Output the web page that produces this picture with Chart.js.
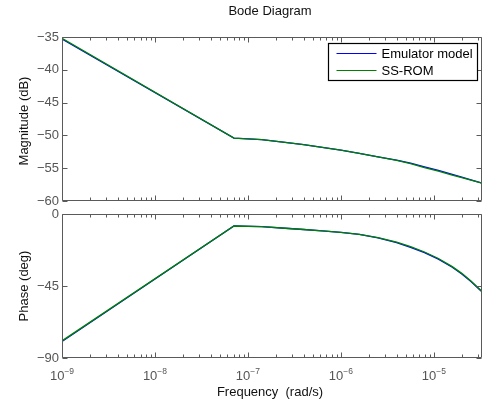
<!DOCTYPE html>
<html lang="en">
<head>
  <meta charset="UTF-8" />
  <title>Bode Diagram</title>
  <script src="https://cdn.jsdelivr.net/npm/chart.js"></script>
  <style>
    * { margin: 0; padding: 0; }
    body { background: #fff; width: 485px; height: 405px; overflow: hidden; position: relative; }
    canvas { position: absolute; left: 0; }
    #magChart { top: 0; }
    #phaseChart { top: 205px; }
  </style>
</head>
<body>
  <canvas id="magChart" width="485" height="205"></canvas>
  <canvas id="phaseChart" width="485" height="200"></canvas>

  <script>
    // frequency samples (rad/s) shared by both plots
    const freq = [1e-9, 7.08e-8, 1.41e-7, 2.51e-7, 3.98e-7, 6.31e-7, 1e-6, 1.58e-6, 2.51e-6,
                  3.98e-6, 5.62e-6, 7.94e-6, 1.12e-5, 1.58e-5, 2.0e-5, 2.51e-5, 3.16e-5, 3.3e-5];

    // magnitude (dB)
    const magEmulator = [-35.3, -50.4, -50.64, -51.06, -51.42, -51.81, -52.25, -52.74, -53.26,
                         -53.78, -54.22, -54.8, -55.33, -55.95, -56.36, -56.77, -57.18, -57.26];
    const magRom      = [-35.2, -50.4, -50.64, -51.06, -51.42, -51.81, -52.25, -52.74, -53.26,
                         -53.82, -54.29, -54.9, -55.44, -56.05, -56.43, -56.81, -57.2, -57.27];

    // phase (deg)
    const phaseEmulator = [-79.7, -7.5, -7.9, -8.9, -9.7, -10.5, -11.5, -12.75, -14.95,
                           -17.9, -20.8, -24.1, -28.2, -33.3, -37.5, -42.2, -47.6, -48.6];
    const phaseRom      = [-79.3, -7.5, -7.9, -8.9, -9.7, -10.5, -11.5, -12.7, -14.7,
                           -17.6, -20.45, -23.75, -27.8, -32.9, -37.1, -41.9, -47.4, -48.5];

    const magTicks = [-60, -55, -50, -45, -40, -35];
    const phaseTicks = [-90, -45, 0];
    const decades = [-9, -8, -7, -6, -5];
    const seriesNames = ['Emulator model', 'SS-ROM'];

    const colors = ['#0000ff', '#008000'];
    const FONT = '"Liberation Sans", Arial, sans-serif';
    const AXIS = '#5a5a5a';
    const TICKTXT = '#555';

    const minus = v => String(v).replace('-', '\u2212');
    const pts = ys => freq.map((f, i) => ({ x: f, y: ys[i] }));

    // matlab-ish box axes: inward ticks on all four sides, labels, titles, legend
    const frame = {
      id: 'frame',
      afterDatasetsDraw(chart, args, o) {
        const ctx = chart.ctx;
        const a = chart.chartArea;
        const xs = chart.scales.x, ys = chart.scales.y;
        const L = a.left + 0.5, R = a.right - 0.5, T = a.top + 0.5, B = a.bottom - 0.5;
        ctx.save();
        ctx.strokeStyle = AXIS;
        ctx.lineWidth = 1;
        ctx.beginPath();
        ctx.rect(L, T, R - L, B - T);

        decades.forEach(d => {
          for (let k = 1; k <= 9; k++) {
            const v = k * Math.pow(10, d);
            if (v > xs.max * 1.0001) continue;
            const x = Math.round(xs.getPixelForValue(v)) + 0.5;
            const len = k === 1 ? 5 : 3;
            ctx.moveTo(x, B); ctx.lineTo(x, B - len);
            ctx.moveTo(x, T); ctx.lineTo(x, T + len);
          }
        });
        o.yTicks.forEach(t => {
          const y = Math.round(ys.getPixelForValue(t)) + 0.5;
          ctx.moveTo(L, y); ctx.lineTo(L + 5, y);
          ctx.moveTo(R, y); ctx.lineTo(R - 5, y);
        });
        ctx.stroke();

        // y tick labels
        ctx.fillStyle = TICKTXT;
        ctx.font = '13px ' + FONT;
        ctx.textAlign = 'right';
        ctx.textBaseline = 'middle';
        o.yTicks.forEach(t => ctx.fillText(minus(t), a.left - 3, ys.getPixelForValue(t)));

        // x tick labels as 10^n
        if (o.xLabels) {
          decades.forEach(d => {
            const x = xs.getPixelForValue(Math.pow(10, d));
            ctx.font = '13px ' + FONT;
            const wb = ctx.measureText('10').width;
            ctx.font = '8.5px ' + FONT;
            const we = ctx.measureText(minus(d)).width;
            const x0 = x - (wb + we) / 2;
            const base = a.bottom + 22;
            ctx.textAlign = 'left';
            ctx.textBaseline = 'alphabetic';
            ctx.font = '13px ' + FONT;
            ctx.fillText('10', x0, base);
            ctx.font = '8.5px ' + FONT;
            ctx.fillText(minus(d), x0 + wb, base - 6);
          });
          ctx.fillStyle = '#111';
          ctx.font = '13px ' + FONT;
          ctx.textAlign = 'center';
          ctx.textBaseline = 'middle';
          ctx.fillText('Frequency  (rad/s)', 270, a.bottom + 34);
        }

        // y axis title
        ctx.fillStyle = '#111';
        ctx.font = '13px ' + FONT;
        ctx.textAlign = 'center';
        ctx.textBaseline = 'middle';
        ctx.save();
        ctx.translate(24, (a.top + a.bottom) / 2 + (o.yShift || 0));
        ctx.rotate(-Math.PI / 2);
        ctx.fillText(o.yTitle, 0, 0);
        ctx.restore();

        if (o.title) {
          ctx.fillText(o.title, 270, 11);
        }

        if (o.legend) {
          const bx = a.right - 153.5, by = a.top + 6.5, bw = 149, bh = 37;
          ctx.fillStyle = '#fff';
          ctx.fillRect(bx, by, bw, bh);
          ctx.strokeStyle = '#000';
          ctx.lineWidth = 1.2;
          ctx.strokeRect(bx, by, bw, bh);
          seriesNames.forEach((name, i) => {
            const y = by + 10 + i * 17;
            ctx.strokeStyle = colors[i];
            ctx.lineWidth = 1;
            ctx.beginPath();
            ctx.moveTo(bx + 8, y); ctx.lineTo(bx + 48, y);
            ctx.stroke();
            ctx.fillStyle = '#000';
            ctx.textAlign = 'left';
            ctx.fillText(name, bx + 53, y + 0.5);
          });
        }
        ctx.restore();
      }
    };

    function makeChart(id, emu, rom, yMin, yMax, padding, frameOpts) {
      return new Chart(document.getElementById(id), {
        type: 'line',
        data: {
          datasets: [
            { label: seriesNames[0], data: pts(emu), borderColor: colors[0], order: 2 },
            { label: seriesNames[1], data: pts(rom), borderColor: colors[1], order: 1 }
          ]
        },
        options: {
          responsive: false,
          animation: false,
          devicePixelRatio: 1,
          events: [],
          layout: { padding },
          elements: {
            line: { borderWidth: 1.3, tension: 0, fill: false },
            point: { radius: 0 }
          },
          scales: {
            x: { type: 'logarithmic', min: 1e-9, max: 3.3e-5, display: false },
            y: { type: 'linear', min: yMin, max: yMax, display: false }
          },
          plugins: {
            legend: { display: false },
            tooltip: { enabled: false },
            frame: frameOpts
          }
        },
        plugins: [frame]
      });
    }

    makeChart('magChart', magEmulator, magRom, -60, -35,
      { left: 62, right: 3, top: 37, bottom: 4 },
      { yTicks: magTicks, yTitle: 'Magnitude (dB)', title: 'Bode Diagram', legend: true, yShift: 2 });

    makeChart('phaseChart', phaseEmulator, phaseRom, -90, 0,
      { left: 62, right: 3, top: 9, bottom: 47 },
      { yTicks: phaseTicks, yTitle: 'Phase (deg)', xLabels: true });
  </script>
</body>
</html>
